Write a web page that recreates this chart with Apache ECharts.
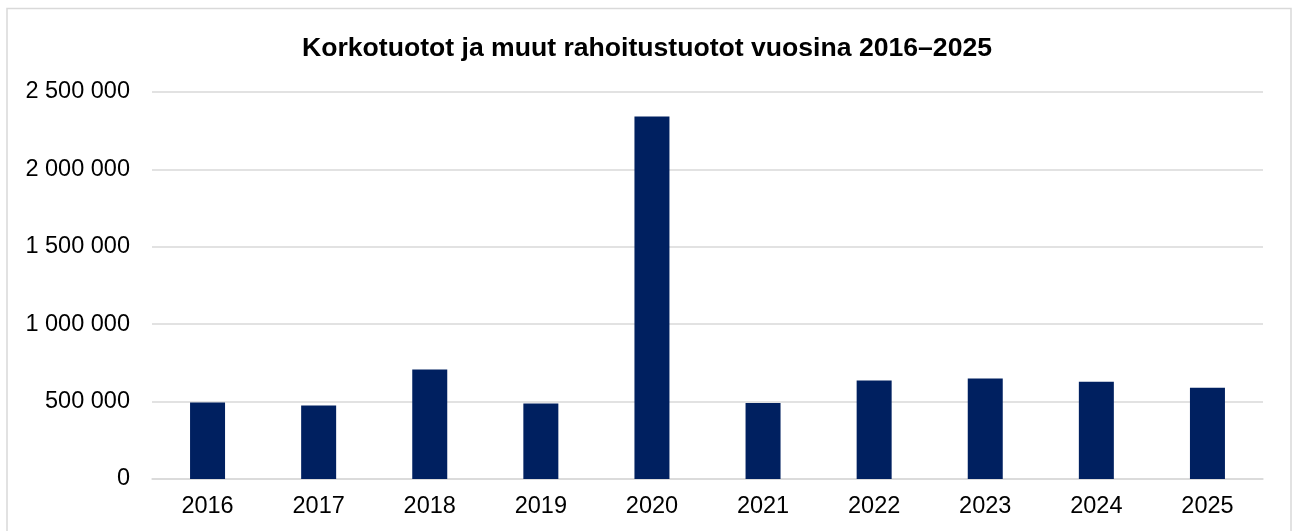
<!DOCTYPE html>
<html>
<head>
<meta charset="utf-8">
<script src="https://cdn.jsdelivr.net/npm/echarts@6/dist/echarts.min.js"></script>
<style>
  html, body { margin: 0; padding: 0; background: #fff; }
  #chart { width: 1294px; height: 531px; }
</style>
</head>
<body>
<div id="chart"></div>
<script>
// vuodet ja arvot (euroa), luettu kuvasta
var years = ['2016', '2017', '2018', '2019', '2020', '2021', '2022', '2023', '2024', '2025'];
var tuotot = [494000, 474000, 707000, 487000, 2341000, 491000, 636000, 649000, 629000, 590000];
var yTicks = [0, 500000, 1000000, 1500000, 2000000, 2500000];

function fmt(v) {
    return String(v).replace(/\B(?=(\d{3})+(?!\d))/g, ' ');
}

var e = echarts.init(document.getElementById('chart'));

var option = {
    backgroundColor: '#fff',
    animation: false,
    textStyle: { fontFamily: 'Liberation Sans, Arial, sans-serif' },
    title: {
        text: 'Korkotuotot ja muut rahoitustuotot vuosina 2016\u20132025',
        left: 'center',
        top: 30,
        textStyle: {
            fontFamily: 'Liberation Sans, Arial, sans-serif',
            fontSize: 26.6,
            fontWeight: 'bold',
            color: '#000'
        }
    },
    graphic: [{
        type: 'rect',
        shape: { x: 7, y: 8.5, width: 1284, height: 540 },
        style: { fill: 'none', stroke: '#d9d9d9', lineWidth: 1.5 },
        silent: true
    }],
    grid: {
        left: 152,
        right: 31,
        top: 92,
        bottom: 52
    },
    xAxis: {
        type: 'category',
        data: years,
        axisLine: { lineStyle: { color: '#d9d9d9', width: 1.5 } },
        axisTick: { show: false },
        axisLabel: {
            color: '#000',
            fontSize: 23.5,
            margin: 16
        }
    },
    yAxis: {
        type: 'value',
        min: yTicks[0],
        max: yTicks[yTicks.length - 1],
        interval: yTicks[1] - yTicks[0],
        axisLine: { show: false },
        axisTick: { show: false },
        splitLine: { lineStyle: { color: '#d9d9d9', width: 1.5 } },
        axisLabel: {
            color: '#000',
            fontSize: 23.5,
            margin: 22,
            formatter: fmt
        }
    },
    series: [{
        name: 'Korkotuotot ja muut rahoitustuotot',
        type: 'bar',
        data: tuotot,
        barWidth: 35,
        itemStyle: { color: '#002060' }
    }]
};

e.setOption(option);
</script>
</body>
</html>
